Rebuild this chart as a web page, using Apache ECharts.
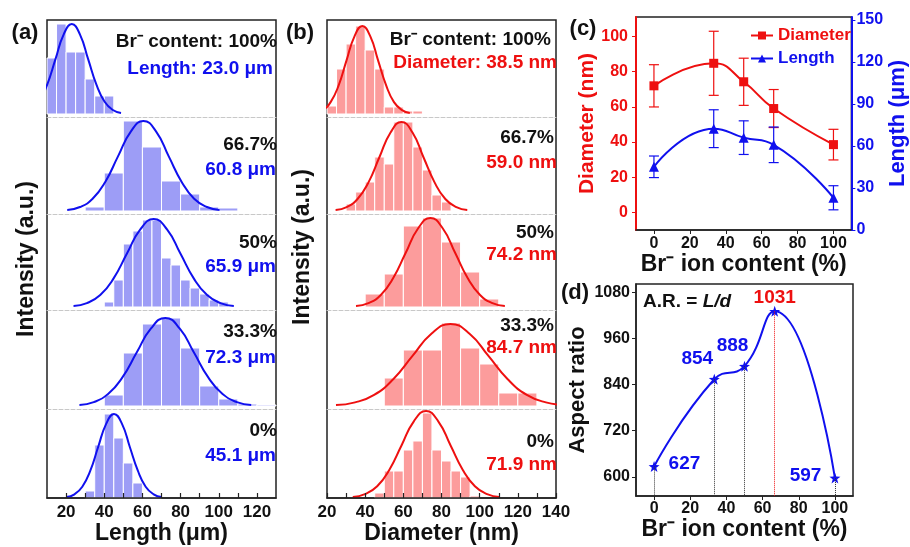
<!DOCTYPE html>
<html>
<head>
<meta charset="utf-8">
<script src="https://cdn.jsdelivr.net/npm/echarts@6/dist/echarts.min.js"></script>
<style>
html, body { margin: 0; padding: 0; background: #fff; }
#chart { width: 910px; height: 547px; }
</style>
</head>
<body>
<div id="chart"></div>
<script>
// ---- data ----

// histogram bins: [from, to, height (a.u.)], rows top to bottom = 100%, 66.7%, 50%, 33.3%, 0%
var lenHist100 = [[10,15,56],[15,20,90],[20,25,62],[25,30,62],[30,35,35],[35,40,18],[40,45,18]];
var lenHist667 = [[30,40,4],[40,50,38],[50,60,90],[60,70,64],[70,80,30],[80,90,17],[90,100,4],[100,110,3]];
var lenHist50 = [[40,45,5],[45,50,27],[50,55,63],[55,60,76],[60,65,87],[65,70,87],[70,75,49],[75,80,42],[80,85,27],[85,90,19],[90,95,13],[95,100,7],[100,105,5]];
var lenHist333 = [[40,50,11],[50,60,53],[60,70,82],[70,80,88],[80,90,58],[90,100,20],[100,110,7],[110,120,2],[120,130,1]];
var lenHist0 = [[30,35,7],[35,40,53],[40,45,84],[45,50,60],[50,55,35],[55,60,15],[60,65,1],[65,70,1]];

var diaHist100 = [[20,25,8],[25,30,45],[30,35,70],[35,40,88],[40,45,64],[45,50,45],[50,55,7],[55,60,7],[60,65,3],[65,70,3]];
var diaHist667 = [[30,35,7],[35,40,19],[40,45,29],[45,50,54],[50,55,47],[55,60,89],[60,65,89],[65,70,64],[70,75,41],[75,80,16],[80,85,9]];
var diaHist50 = [[40,50,13],[50,60,33],[60,70,81],[70,80,89],[80,90,65],[90,100,35],[100,110,8]];
var diaHist333 = [[50,60,28],[60,70,56],[70,80,56],[80,90,83],[90,100,58],[100,110,42],[110,120,13],[120,130,13]];
var diaHist0 = [[45,50,5],[50,55,27],[55,60,27],[60,65,48],[65,70,57],[70,75,85],[75,80,48],[80,85,37],[85,90,27],[90,95,21],[95,100,2]];

// fitted curves, points
var lenCurve100 = [[-2.8,1.0],[1.5,4.0],[5.8,12.2],[10.1,29.3],[14.4,54.6],[18.7,79.4],[23.0,90],[27.3,79.4],[31.6,54.6],[35.9,29.3],[40.2,12.2],[44.5,4.0],[48.8,1.0]];
var lenCurve667 = [[20.6,1.0],[27.3,4.0],[33.9,12.2],[40.6,29.3],[47.2,54.6],[53.9,79.4],[60.5,90],[67.2,79.4],[73.8,54.6],[80.5,29.3],[87.1,12.2],[93.8,4.0],[100.4,1.0]];
var lenCurve50 = [[23.9,1.0],[30.9,3.9],[37.9,11.9],[44.9,28.6],[51.9,53.4],[58.9,77.6],[65.9,88],[72.9,77.6],[79.9,53.4],[86.9,28.6],[93.9,11.9],[100.9,3.9],[107.9,1.0]];
var lenCurve333 = [[27,1.0],[34.5,3.9],[42,11.9],[49.5,28.6],[57,53.4],[64.5,77.6],[72,88],[79.5,77.6],[87,53.4],[94.5,28.6],[102,11.9],[109.5,3.9],[117,1.0]];
var lenCurve0 = [[20.2,0.9],[24.4,3.7],[28.5,11.3],[32.7,27.3],[36.8,51.0],[41.0,74.1],[45.1,84],[49.3,74.1],[53.4,51.0],[57.6,27.3],[61.7,11.3],[65.9,3.7],[70.0,0.9]];

var diaCurve100 = [[13.6,1.0],[17.8,3.9],[21.9,11.9],[26.1,28.6],[30.2,53.4],[34.4,77.6],[38.5,88],[42.7,77.6],[46.8,53.4],[51.0,28.6],[55.1,11.9],[59.3,3.9],[63.4,1.0]];
var diaCurve667 = [[24.5,1.0],[30.3,3.9],[36,12.0],[41.8,28.9],[47.5,54.0],[53.3,78.5],[59,89],[64.8,78.5],[70.5,54.0],[76.3,28.9],[82,12.0],[87.8,3.9],[93.5,1.0]];
var diaCurve50 = [[35.2,1.0],[41.7,3.9],[48.2,12.0],[54.7,28.9],[61.2,54.0],[67.7,78.5],[74.2,89],[80.7,78.5],[87.2,54.0],[93.7,28.9],[100.2,12.0],[106.7,3.9],[113.2,1.0]];
var diaCurve333 = [[24.7,0.9],[34.7,3.6],[44.7,11.1],[54.7,26.7],[64.7,49.8],[74.7,72.3],[84.7,82],[94.7,72.3],[104.7,49.8],[114.7,26.7],[124.7,11.1],[134.7,3.6],[144.7,0.9]];
var diaCurve0 = [[33.5,1.0],[39.9,3.8],[46.3,11.7],[52.7,28.3],[59.1,52.8],[65.5,76.7],[71.9,87],[78.3,76.7],[84.7,52.8],[91.1,28.3],[97.5,11.7],[103.9,3.8],[110.3,1.0]];

var contentLabels = ['Br\u207B content: 100%', '66.7%', '50%', '33.3%', '0%'];
var lengthLabels = ['Length: 23.0 \u03BCm', '60.8 \u03BCm', '65.9 \u03BCm', '72.3 \u03BCm', '45.1 \u03BCm'];
var diameterLabels = ['Diameter: 38.5 nm', '59.0 nm', '74.2 nm', '84.7 nm', '71.9 nm'];

// (c) and (d)
var contentPct = [0, 33.3, 50, 66.7, 100];
var diameterMean = [71.9, 84.7, 74.2, 59.0, 38.5];
var diameterErr = [12, 18.2, 13.4, 10.8, 8.7];
var lengthMean = [45.1, 72.3, 65.9, 60.8, 23.0];
var lengthErr = [7.7, 13.5, 12, 12.7, 8.6];
var aspectRatio = [627, 854, 888, 1031, 597];

var pctTicks = [0, 20, 40, 60, 80, 100];
var diaTicks = [0, 20, 40, 60, 80, 100];
var lenTicks = [0, 30, 60, 90, 120, 150];
var arTicks = [600, 720, 840, 960, 1080];
var lenHistLabels = [20, 40, 60, 80, 100, 120];
var diaHistLabels = [20, 40, 60, 80, 100, 120, 140];
var lenHistTicks = [20, 30, 40, 50, 60, 70, 80, 90, 100, 110, 120];
var diaHistTicks = [20, 30, 40, 50, 60, 70, 80, 90, 100, 110, 120, 130, 140];

// ---- styles ----
var FONT = 'Liberation Sans, Arial, sans-serif';
var BLUE = '#1010ee', RED = '#ee1010';
var BLUE_FILL = '#9d9df6', RED_FILL = '#fc9c9c';
var AXIS = '#222';

var chart = echarts.init(document.getElementById('chart'));

var grids = [], xAxes = [], yAxes = [], series = [];

function plain(v) { return String(v); }

function barRenderer(fill) {
    return function (params, api) {
        var a = api.coord([api.value(0), api.value(2)]);
        var b = api.coord([api.value(1), 0]);
        var rect = echarts.graphic.clipRectByRect(
            { x: a[0], y: a[1], width: b[0] - a[0], height: b[1] - a[1] }, params.coordSys);
        if (!rect) return;
        return { type: 'rect', shape: rect, style: { fill: fill, stroke: '#fff', lineWidth: 1 } };
    };
}

function errRenderer(color) {
    return function (params, api) {
        var top = api.coord([api.value(0), api.value(2)]);
        var bot = api.coord([api.value(0), api.value(1)]);
        var st = { stroke: color, lineWidth: 1.2 };
        return {
            type: 'group', children: [
                { type: 'line', shape: { x1: top[0], y1: top[1], x2: bot[0], y2: bot[1] }, style: st },
                { type: 'line', shape: { x1: top[0] - 5, y1: top[1], x2: top[0] + 5, y2: top[1] }, style: st },
                { type: 'line', shape: { x1: bot[0] - 5, y1: bot[1], x2: bot[0] + 5, y2: bot[1] }, style: st }
            ]
        };
    };
}

var rowTops = [20, 117, 214, 310, 409];
var rowBottom = 498;

// five stacked histograms in one panel
function histPanel(left, xMin, xMax, hists, curves, fill, lineColor, ticks, labels, axisName) {
    // outer frame
    var fi = grids.length;
    grids.push({ left: left, top: rowTops[0], width: 229, height: rowBottom - rowTops[0], show: true, borderColor: AXIS, borderWidth: 1.5 });
    xAxes.push({ gridIndex: fi, type: 'value', show: false, min: 0, max: 1 });
    yAxes.push({ gridIndex: fi, type: 'value', show: false, min: 0, max: 1 });

    for (var i = 0; i < 5; i++) {
        var gi = grids.length;
        var last = i === 4;
        var top = rowTops[i];
        var h = (last ? rowBottom : rowTops[i + 1]) - top;
        grids.push({ left: left, top: top, width: 229, height: h });
        xAxes.push({
            gridIndex: gi, type: 'value', min: xMin, max: xMax,
            splitLine: { show: false },
            axisLine: last
                ? { onZero: false, lineStyle: { color: AXIS, width: 1.5 } }
                : { onZero: false, lineStyle: { color: '#c8c8c8', type: 'dashed', width: 1 } },
            axisTick: last
                ? { inside: true, length: 5, customValues: ticks, lineStyle: { color: AXIS, width: 1.2 } }
                : { show: false },
            axisLabel: last
                ? { customValues: labels, margin: 6, color: '#111', fontFamily: FONT, fontWeight: 'bold', fontSize: 17 }
                : { show: false },
            name: last ? axisName : '',
            nameLocation: 'middle', nameGap: 24,
            nameTextStyle: { color: '#111', fontFamily: FONT, fontWeight: 'bold', fontSize: 23 },
            z: 5
        });
        yAxes.push({ gridIndex: gi, type: 'value', show: false, min: last ? 0 : -3, max: last ? h : h - 3 });
        series.push({
            type: 'custom', xAxisIndex: gi, yAxisIndex: gi, data: hists[i],
            renderItem: barRenderer(fill), encode: { x: [0, 1], y: 2 }, silent: true, z: 1
        });
        series.push({
            type: 'line', xAxisIndex: gi, yAxisIndex: gi, data: curves[i], smooth: true,
            symbol: 'none', clip: true, silent: true, z: 3,
            lineStyle: { color: lineColor, width: 2 }
        });
    }
}

histPanel(47, 10, 130, [lenHist100, lenHist667, lenHist50, lenHist333, lenHist0],
    [lenCurve100, lenCurve667, lenCurve50, lenCurve333, lenCurve0],
    BLUE_FILL, BLUE, lenHistTicks, lenHistLabels, 'Length (\u03BCm)');
histPanel(327, 20, 140, [diaHist100, diaHist667, diaHist50, diaHist333, diaHist0],
    [diaCurve100, diaCurve667, diaCurve50, diaCurve333, diaCurve0],
    RED_FILL, RED, diaHistTicks, diaHistLabels, 'Diameter (nm)');

var tickLabel = { fontFamily: FONT, fontWeight: 'bold', fontSize: 16, formatter: plain };

// (c) diameter and length vs Br content
var gc = grids.length;
grids.push({ left: 636, top: 17, width: 217, height: 213, show: true, borderColor: AXIS, borderWidth: 1.5 });
xAxes.push({
    gridIndex: gc, type: 'value', min: -10, max: 110, splitLine: { show: false },
    axisLine: { onZero: false, lineStyle: { color: AXIS, width: 1.5 } },
    axisTick: { customValues: pctTicks, length: 4, lineStyle: { color: AXIS } },
    axisLabel: Object.assign({ customValues: pctTicks, margin: 6, color: '#111' }, tickLabel),
    name: 'Br\u207B ion content (%)', nameLocation: 'middle', nameGap: 21,
    nameTextStyle: { color: '#111', fontFamily: FONT, fontWeight: 'bold', fontSize: 23 }
});
var yDia = yAxes.length;
yAxes.push({
    gridIndex: gc, type: 'value', min: -10, max: 111, splitLine: { show: false },
    axisLine: { show: true, onZero: false, lineStyle: { color: RED, width: 2 } },
    axisTick: { show: true, customValues: diaTicks, length: 4, lineStyle: { color: RED } },
    axisLabel: Object.assign({ customValues: diaTicks, margin: 8, color: RED }, tickLabel),
    name: 'Diameter (nm)', nameLocation: 'middle', nameGap: 38, nameRotate: 90,
    nameTextStyle: { color: RED, fontFamily: FONT, fontWeight: 'bold', fontSize: 21 }
});
var yLen = yAxes.length;
yAxes.push({
    gridIndex: gc, type: 'value', position: 'right', min: 0, max: 152, splitLine: { show: false },
    axisLine: { show: true, onZero: false, lineStyle: { color: BLUE, width: 2 } },
    axisTick: { show: true, customValues: lenTicks, length: 4, lineStyle: { color: BLUE } },
    axisLabel: Object.assign({ customValues: lenTicks, margin: 5, color: BLUE }, tickLabel),
    name: 'Length (\u03BCm)', nameLocation: 'middle', nameGap: 35, nameRotate: 90,
    nameTextStyle: { color: BLUE, fontFamily: FONT, fontWeight: 'bold', fontSize: 22 }
});

function pairs(xs, ys) {
    return xs.map(function (x, i) { return [x, ys[i]]; });
}
function errData(xs, ys, es) {
    return xs.map(function (x, i) { return [x, ys[i] - es[i], ys[i] + es[i]]; });
}

series.push({
    type: 'custom', xAxisIndex: gc, yAxisIndex: yDia, data: errData(contentPct, diameterMean, diameterErr),
    renderItem: errRenderer(RED), encode: { x: 0, y: [1, 2] }, silent: true, z: 2
});
series.push({
    type: 'custom', xAxisIndex: gc, yAxisIndex: yLen, data: errData(contentPct, lengthMean, lengthErr),
    renderItem: errRenderer(BLUE), encode: { x: 0, y: [1, 2] }, silent: true, z: 2
});
series.push({
    name: 'Diameter', type: 'line', xAxisIndex: gc, yAxisIndex: yDia, data: pairs(contentPct, diameterMean),
    smooth: 0.5, symbol: 'rect', symbolSize: 9, color: RED, lineStyle: { width: 2 }, z: 4
});
series.push({
    name: 'Length', type: 'line', xAxisIndex: gc, yAxisIndex: yLen, data: pairs(contentPct, lengthMean),
    smooth: 0.5, symbol: 'triangle', symbolSize: 10, color: BLUE, lineStyle: { width: 2 }, z: 4
});

// (d) aspect ratio
var gd = grids.length;
grids.push({ left: 636, top: 284, width: 217, height: 212, show: true, borderColor: AXIS, borderWidth: 1.5 });
xAxes.push({
    gridIndex: gd, type: 'value', min: -10, max: 110, splitLine: { show: false },
    axisLine: { onZero: false, lineStyle: { color: AXIS, width: 1.5 } },
    axisTick: { customValues: pctTicks, length: 4, lineStyle: { color: AXIS } },
    axisLabel: Object.assign({ customValues: pctTicks, margin: 5, color: '#111' }, tickLabel),
    name: 'Br\u207B ion content (%)', nameLocation: 'middle', nameGap: 21,
    nameTextStyle: { color: '#111', fontFamily: FONT, fontWeight: 'bold', fontSize: 23 }
});
var yAr = yAxes.length;
yAxes.push({
    gridIndex: gd, type: 'value', min: 550, max: 1102, splitLine: { show: false },
    axisLine: { show: true, onZero: false, lineStyle: { color: AXIS, width: 1.5 } },
    axisTick: { show: true, customValues: arTicks, length: 4, lineStyle: { color: AXIS } },
    axisLabel: Object.assign({ customValues: arTicks, margin: 6, color: '#111' }, tickLabel),
    name: 'Aspect ratio', nameLocation: 'middle', nameGap: 47, nameRotate: 90,
    nameTextStyle: { color: '#111', fontFamily: FONT, fontWeight: 'bold', fontSize: 22 }
});

var arLabelPos = [
    { position: 'right', distance: 9, offset: [0, -3] },
    { position: 'top', distance: 5, offset: [-17, 0] },
    { position: 'top', distance: 5, offset: [-12, 0] },
    { position: 'top', distance: 2, offset: [0, 3], color: RED },
    { position: 'left', distance: 8, offset: [0, -2] }
];
var STAR = 'path://M0,-10L2.35,-3.24L9.51,-3.09L3.8,1.24L5.88,8.09L0,4L-5.88,8.09L-3.8,1.24L-9.51,-3.09L-2.35,-3.24Z';

series.push({
    type: 'line', xAxisIndex: gd, yAxisIndex: yAr, smooth: 0.5,
    symbol: STAR, symbolSize: 11, color: BLUE, lineStyle: { width: 2 }, z: 4,
    data: contentPct.map(function (x, i) {
        return { value: [x, aspectRatio[i]], label: arLabelPos[i] };
    }),
    label: {
        show: true, formatter: function (p) { return p.value[1]; },
        color: BLUE, fontFamily: FONT, fontWeight: 'bold', fontSize: 19
    },
    markLine: {
        silent: true, symbol: 'none', label: { show: false },
        lineStyle: { color: '#333', type: 'dotted', width: 1 },
        data: contentPct.map(function (x, i) {
            var ls = { color: i === 3 ? RED : '#333', type: 'dotted', width: 1 };
            return [{ coord: [x, aspectRatio[i]], lineStyle: ls }, { coord: [x, 550], lineStyle: ls }];
        })
    }
});

// ---- text annotations ----
function txt(x, y, text, color, size, align, rotation) {
    return {
        type: 'text', x: x, y: y, rotation: rotation || 0, z: 100,
        style: {
            text: text, fill: color, font: 'bold ' + size + 'px ' + FONT,
            align: align || 'center', textAlign: align || 'center',
            verticalAlign: 'middle', textVerticalAlign: 'middle'
        }
    };
}

var graphics = [
    txt(25, 33, '(a)', '#111', 22),
    txt(300, 33, '(b)', '#111', 22),
    txt(583, 29, '(c)', '#111', 22),
    txt(575, 293, '(d)', '#111', 22),
    txt(27, 259, 'Intensity (a.u.)', '#111', 23, 'center', Math.PI / 2),
    txt(303, 247, 'Intensity (a.u.)', '#111', 23, 'center', Math.PI / 2)
];

var aY1 = [42, 145, 243, 332, 431], aY2 = [69, 170, 267, 358, 456];
var bY1 = [40, 138, 233, 326, 442], bY2 = [63, 163, 255, 348, 465];
for (var i = 0; i < 5; i++) {
    graphics.push(txt(277, aY1[i], contentLabels[i], '#111', 19, 'right'));
    graphics.push(txt(i === 0 ? 273 : 276, aY2[i], lengthLabels[i], BLUE, 19, 'right'));
    graphics.push(txt(i === 0 ? 551 : 554, bY1[i], contentLabels[i], '#111', 19, 'right'));
    graphics.push(txt(557, bY2[i], diameterLabels[i], RED, 19, 'right'));
}
graphics.push({
    type: 'text', x: 643, y: 302, z: 100,
    style: {
        text: '{a|A.R. = }{b|L/d}', verticalAlign: 'middle', textVerticalAlign: 'middle',
        rich: {
            a: { fontFamily: FONT, fontWeight: 'bold', fontSize: 19, fill: '#111', color: '#111' },
            b: { fontFamily: FONT, fontWeight: 'bold', fontStyle: 'italic', fontSize: 19, fill: '#111', color: '#111' }
        }
    }
});

var option = {
    animation: false,
    backgroundColor: '#fff',
    grid: grids,
    xAxis: xAxes,
    yAxis: yAxes,
    legend: {
        data: [
            { name: 'Diameter', textStyle: { color: RED } },
            { name: 'Length', textStyle: { color: BLUE } }
        ],
        orient: 'vertical', left: 745, top: 22, itemGap: 6,
        itemWidth: 22, itemHeight: 10,
        textStyle: { fontFamily: FONT, fontWeight: 'bold', fontSize: 17 }
    },
    graphic: graphics,
    series: series
};

chart.setOption(option);
</script>
</body>
</html>
